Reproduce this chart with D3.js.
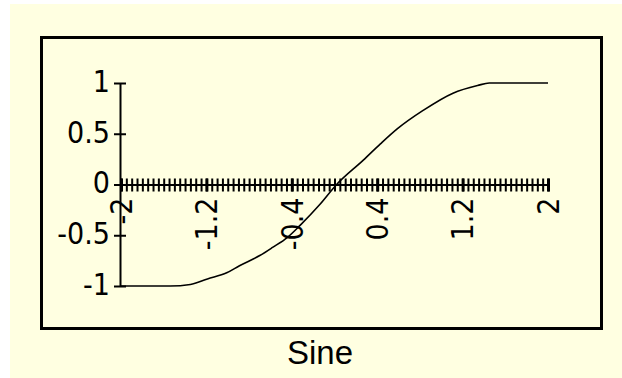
<!DOCTYPE html>
<html>
<head>
<meta charset="utf-8">
<script src="https://cdn.jsdelivr.net/npm/d3@7"></script>
<style>
  body { margin: 0; background: #fff; }
  svg { display: block; }
  .lbl { font-family: "Liberation Sans Narrow", "DejaVu Sans Condensed", "Liberation Sans", sans-serif; font-size: 30px; fill: #000; }
  .domain { stroke: #000; stroke-width: 2px; }
  .tick line { stroke: #000; stroke-width: 2px; }
</style>
</head>
<body>
<div id="container"></div>
<script>
// Sine curve
const xValues = [ -2, -1.54, -1.35, -1.19, -1.01, -0.89, -0.70, -0.58, -0.44, -0.32, -0.14, 0.02, 0.27, 0.43, 0.59, 0.83, 1.11, 1.34, 1.45, 2 ];
const yValues = [ -1, -1, -0.985, -0.93, -0.87, -0.80, -0.70, -0.62, -0.52, -0.40, -0.20, 0, 0.24, 0.40, 0.55, 0.73, 0.90, 0.975, 1, 1 ];

const xLabels = [ -2, -1.2, -0.4, 0.4, 1.2, 2 ];
const yLabels = [ 1, 0.5, 0, -0.5, -1 ];
const minorStep = 0.05;
const titleText = 'Sine';

//_____ LAYOUT _____
const W = 622, H = 378;
const plot = { left: 121, right: 548, top: 83, bottom: 286 };
const bg = '#ffffe1';

const svg = d3.select( '#container' ).append( 'svg' )
  .attr( 'width', W )
  .attr( 'height', H );

//>>> Background + frame
svg.append( 'rect' ).attr( 'x', 10 ).attr( 'y', 4 ).attr( 'width', W - 10 ).attr( 'height', H - 4 ).attr( 'fill', bg );
svg.append( 'rect' )
  .attr( 'x', 41.5 ).attr( 'y', 37.5 ).attr( 'width', 560 ).attr( 'height', 291 )
  .attr( 'fill', 'none' ).attr( 'stroke', '#000' ).attr( 'stroke-width', 3 );

//_____ SCALES _____
const x = d3.scaleLinear().domain( [ -2, 2 ] ).range( [ plot.left, plot.right ] );
const y = d3.scaleLinear().domain( [ -1, 1 ] ).range( [ plot.bottom, plot.top ] );

//_____ X AXIS (cross ticks at 0.05) _____
const minorTicks = d3.range( 0, 81 ).map( i => -2 + i * minorStep );
const y0 = y( 0 );

svg.append( 'g' ).attr( 'transform', `translate(0,${y0})` )
  .call( d3.axisBottom( x ).tickValues( minorTicks ).tickSize( 7 ).tickSizeOuter( 0 ).tickFormat( '' ) );
svg.append( 'g' ).attr( 'transform', `translate(0,${y0})` )
  .call( d3.axisTop( x ).tickValues( minorTicks ).tickSize( 6 ).tickSizeOuter( 0 ).tickFormat( '' ) );

//>>> Heavier ticks at the labelled values
svg.append( 'g' ).attr( 'transform', `translate(0,${y0})` )
  .call( d3.axisBottom( x ).tickValues( xLabels ).tickSize( 7 ).tickSizeOuter( 0 ).tickFormat( '' ) )
  .call( g => g.select( '.domain' ).remove() )
  .selectAll( '.tick line' ).attr( 'y1', -6 ).style( 'stroke-width', '3px' );

//>>> Rotated x labels
svg.append( 'g' ).selectAll( 'text' )
  .data( xLabels )
  .enter().append( 'text' )
  .attr( 'class', 'lbl' )
  .attr( 'transform', d => `translate(${x( d )},${y0 + 13}) rotate(-90)` )
  .attr( 'text-anchor', 'end' )
  .attr( 'dy', '0.36em' )
  .text( d => d );

//_____ Y AXIS _____
svg.append( 'g' ).attr( 'transform', `translate(${plot.left - 1},0)` )
  .call( d3.axisLeft( y ).tickValues( yLabels ).tickSize( 6 ).tickSizeOuter( 0 ).tickFormat( '' ) )
  .selectAll( '.tick line' ).attr( 'x2', 6 ).attr( 'x1', -6 );

svg.append( 'g' ).selectAll( 'text' )
  .data( yLabels )
  .enter().append( 'text' )
  .attr( 'class', 'lbl' )
  .attr( 'x', 110 )
  .attr( 'y', d => y( d ) - 2 )
  .attr( 'dy', '0.36em' )
  .attr( 'text-anchor', 'end' )
  .text( d => d );

//_____ CURVE _____
const line = d3.line()
  .x( ( d, i ) => x( xValues[ i ] ) )
  .y( d => y( d ) )
  .curve( d3.curveMonotoneX );

svg.append( 'path' )
  .datum( yValues )
  .attr( 'd', line )
  .attr( 'fill', 'none' )
  .attr( 'stroke', '#000' )
  .attr( 'stroke-width', 1.6 );

//_____ TITLE _____
svg.append( 'text' )
  .attr( 'x', 320 )
  .attr( 'y', 364 )
  .attr( 'text-anchor', 'middle' )
  .style( 'font-family', '"Liberation Sans", Arial, sans-serif' )
  .style( 'font-size', '33px' )
  .text( titleText );
</script>
</body>
</html>
